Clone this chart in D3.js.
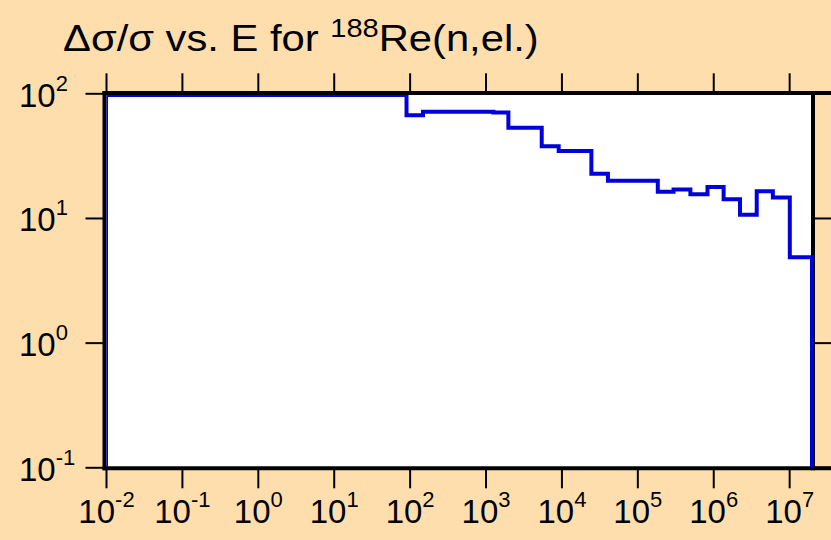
<!DOCTYPE html>
<html>
<head>
<meta charset="utf-8">
<script src="https://cdn.jsdelivr.net/npm/d3@7"></script>
<style>
  html, body { margin: 0; padding: 0; background: #FFDEAD; }
  svg { display: block; }
  text { font-family: "Liberation Sans", Arial, sans-serif; fill: #000; }
</style>
</head>
<body>
<svg id="chart" width="831" height="540"></svg>
<script>
// ---- data ----
const energyEdges = [1e-2, 91, 150, 1270, 2000, 5500, 9200, 2.48e4, 4.1e4, 1.86e5,
                     3.0e5, 5.0e5, 8.4e5, 1.37e6, 2.25e6, 3.74e6, 6.1e6, 1.02e7, 2e7];
const relUncertainty = [97, 66.6, 71.2, 70.3, 53.0, 37.6, 34.4, 22.6, 19.9, 16.2,
                        16.9, 15.5, 17.7, 14.1, 10.6, 16.4, 14.6, 4.84];
const xTickExponents = [-2, -1, 0, 1, 2, 3, 4, 5, 6, 7];
const yTickExponents = [-1, 0, 1, 2];
const titleMain = "\u0394\u03C3/\u03C3 vs. E for ";
const titleSup = "188";
const titleTail = "Re(n,el.)";
const yFloor = 0.1;

// ---- layout ----
const W = 831, H = 540;
const L = 106, R = 812, T = 93.3, B = 467.3;

const svg = d3.select("#chart");
svg.append("rect").attr("width", W).attr("height", H).attr("fill", "#FFDEAD");

const x = d3.scaleLog().domain([1e-2, 2e7]).range([L, R]);
const y = d3.scaleLog().domain([0.1, 100]).range([B, T]);

// plot interior
svg.append("rect").attr("x", L).attr("y", T).attr("width", R - L).attr("height", B - T).attr("fill", "#fff");

const xTicks = xTickExponents.map(e => Math.pow(10, e));
const yTicks = yTickExponents.map(e => Math.pow(10, e));

function styleAxis(g) {
  g.select(".domain").remove();
  g.selectAll(".tick line").attr("stroke", "#000").attr("stroke-width", 2);
}

const gBottom = svg.append("g").attr("transform", `translate(0,${B + 1})`)
  .call(d3.axisBottom(x).tickValues(xTicks).tickSize(20).tickFormat(d => d))
  .call(styleAxis);
gBottom.selectAll(".tick text").each(function(d, i) {
  const t = d3.select(this);
  t.text(null).attr("dy", null)
    .attr("y", 55).attr("text-anchor", "middle").attr("font-size", 33)
    .attr("font-family", '"Liberation Sans", Arial, sans-serif');
  t.append("tspan").text("10");
  t.append("tspan").attr("font-size", 22).attr("dy", -16).text(xTickExponents[i]);
});

svg.append("g").attr("transform", `translate(0,${T})`)
  .call(d3.axisTop(x).tickValues(xTicks).tickSize(20).tickFormat(""))
  .call(styleAxis);

const gLeft = svg.append("g").attr("transform", `translate(${L - 1.5},0)`)
  .call(d3.axisLeft(y).tickValues(yTicks).tickSize(19).tickFormat(d => d))
  .call(styleAxis);
gLeft.selectAll(".tick text").each(function(d, i) {
  const t = d3.select(this);
  t.text(null).attr("dy", null)
    .attr("x", 19 - (L - 1.5)).attr("y", 13).attr("text-anchor", "start").attr("font-size", 33)
    .attr("font-family", '"Liberation Sans", Arial, sans-serif');
  t.append("tspan").text("10");
  t.append("tspan").attr("font-size", 22).attr("dy", -16).text(yTickExponents[i]);
});

svg.append("g").attr("transform", `translate(${R + 1},0)`)
  .call(d3.axisRight(y).tickValues(yTicks).tickSize(20).tickFormat(""))
  .call(styleAxis);

// frame
const frame = svg.append("g").attr("stroke", "#000").attr("stroke-width", 4).attr("fill", "none");
frame.append("line").attr("x1", L - 3.5).attr("x2", W).attr("y1", T - 0.3).attr("y2", T - 0.3);
frame.append("line").attr("x1", L - 3.5).attr("x2", W).attr("y1", B + 1).attr("y2", B + 1);
frame.append("line").attr("x1", L - 1.5).attr("x2", L - 1.5).attr("y1", T - 2.3).attr("y2", B + 3);
frame.append("line").attr("x1", R + 1).attr("x2", R + 1).attr("y1", T - 2.3).attr("y2", B + 3);

// data (step histogram), clipped to plot interior
svg.append("clipPath").attr("id", "clip").append("rect")
  .attr("x", L + 0.5).attr("y", T + 1.7).attr("width", R - L + 4).attr("height", B - T);

const pts = [[energyEdges[0], yFloor]];
relUncertainty.forEach((v, i) => {
  pts.push([energyEdges[i], v]);
  pts.push([energyEdges[i + 1], v]);
});
pts.push([energyEdges[energyEdges.length - 1], yFloor]);

svg.append("path")
  .attr("clip-path", "url(#clip)")
  .attr("d", d3.line().x(d => x(d[0])).y(d => y(d[1]))(pts))
  .attr("fill", "none").attr("stroke", "#0000dc").attr("stroke-width", 4)
  .attr("stroke-linejoin", "miter");

// title (glyphs in the reference are wider than Arial; stretch horizontally)
const tx = 63, ty = 51;
const title = svg.append("text").attr("x", 0).attr("y", 0).attr("font-size", 36)
  .attr("transform", `translate(${tx},${ty}) scale(1.16,1)`);
title.append("tspan").text(titleMain);
title.append("tspan").attr("font-size", 25).attr("dy", -14).text(titleSup);
title.append("tspan").attr("dy", 14).text(titleTail);
</script>
</body>
</html>
